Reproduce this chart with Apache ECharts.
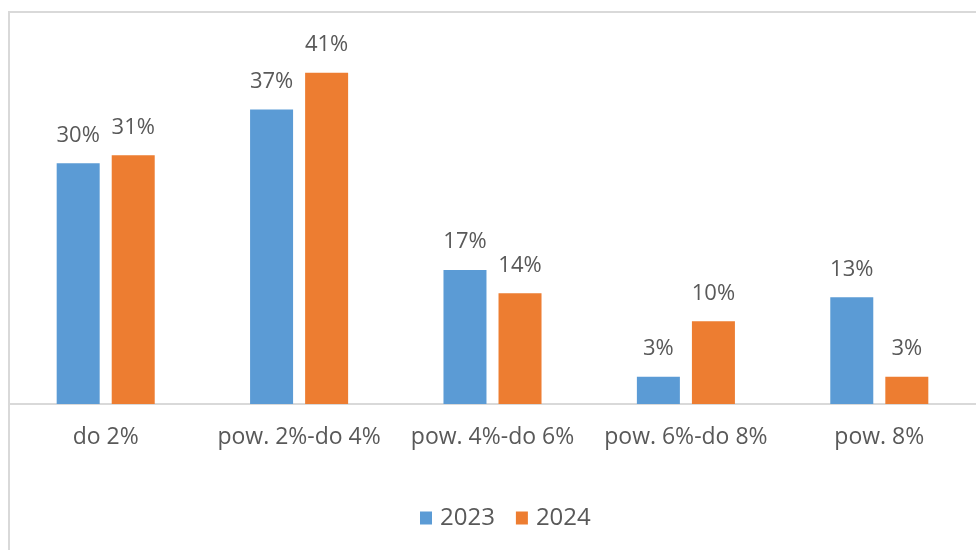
<!DOCTYPE html>
<html><head><meta charset="utf-8">
<script src="https://cdn.jsdelivr.net/npm/echarts@6/dist/echarts.min.js"></script>
<style>html,body{margin:0;padding:0;background:#fff}#c{width:976px;height:550px}</style>
</head><body><div id="c"></div>
<script>
const categories = ['do 2%', 'pow. 2%-do 4%', 'pow. 4%-do 6%', 'pow. 6%-do 8%', 'pow. 8%'];
const values2023 = [30, 36.7, 16.7, 3.4, 13.3];
const values2024 = [31, 41.3, 13.8, 10.3, 3.4];
const seriesNames = ['2023', '2024'];

const FONT = '"Open Sans", sans-serif';
const TXT = '#595959';
const chart = echarts.init(document.getElementById('c'), null, {renderer: 'canvas'});
const lbl = {show: true, position: 'top', distance: 17, color: TXT, fontSize: 22, fontFamily: FONT,
  formatter: p => Math.round(p.value) + '%'};
chart.setOption({
  animation: false,
  graphic: [{type: 'rect', shape: {x: 9, y: 12, width: 1000, height: 600},
    style: {fill: 'none', stroke: '#d9d9d9', lineWidth: 2}, z: -1}],
  legend: {top: 506, left: 420, padding: 0, itemWidth: 12, itemHeight: 13, itemGap: 21,
    icon: 'rect', textStyle: {color: TXT, fontSize: 24, fontFamily: FONT, padding: [0, 0, 0, 3]},
    data: seriesNames},
  grid: {left: 9, right: -3, top: 43, bottom: 146, containLabel: false},
  xAxis: {type: 'category', data: categories,
    axisLine: {lineStyle: {color: '#d9d9d9', width: 2}}, axisTick: {show: false},
    axisLabel: {color: TXT, fontSize: 23, fontFamily: FONT, margin: 22, interval: 0}},
  yAxis: {type: 'value', min: 0, max: 45, show: false, splitLine: {show: false}},
  series: [
    {name: seriesNames[0], type: 'bar', data: values2023, barWidth: 43, barGap: '28%',
     itemStyle: {color: '#5B9BD5'}, label: lbl},
    {name: seriesNames[1], type: 'bar', data: values2024, barWidth: 43,
     itemStyle: {color: '#ED7D31'}, label: lbl}
  ]
});
</script></body></html>
